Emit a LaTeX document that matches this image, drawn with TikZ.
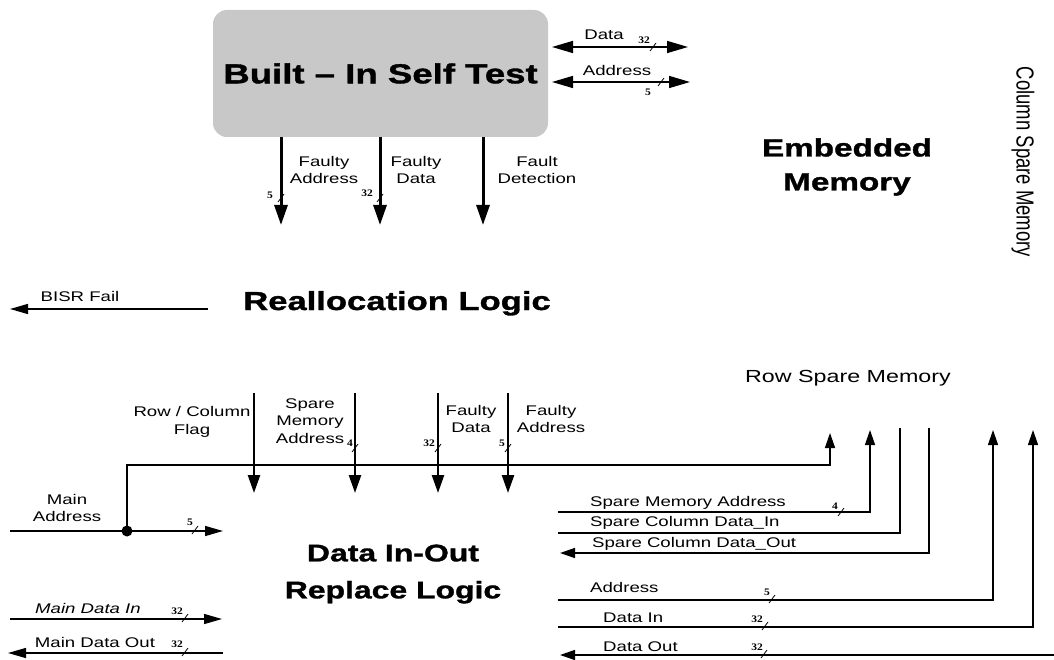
\documentclass[tikz,border=0pt]{standalone}
\usepackage{fontspec}
\setmainfont{Liberation Sans}[FakeStretch=1.33, BoldFeatures={FakeBold=1.3}]
\newfontfamily\plainsans{Liberation Sans}
\newfontfamily\numfont{Liberation Serif}[FakeStretch=1.15]
\usetikzlibrary{arrows.meta}
\definecolor{bistgray}{RGB}{200,200,200}
\tikzset{
  lbl/.style={inner sep=0pt, align=center, font=\fontsize{14}{17.5}\selectfont},
  lblw/.style={inner sep=0pt, anchor=west, font=\fontsize{14}{17.5}\selectfont},
  numlbl/.style={inner sep=0pt, font=\numfont\bfseries\fontsize{10}{10}\selectfont},
  bigarrow/.style={line width=3pt, -{Triangle[length=20pt,width=13pt]}},
  midarrow/.style={line width=2.5pt, -{Triangle[length=18pt,width=12pt]}},
  mainarrow/.style={line width=1.4pt, -{Triangle[length=18pt,width=10pt]}},
  dblarrow/.style={line width=1.5pt, {Triangle[length=21pt,width=12pt]}-{Triangle[length=21pt,width=12pt]}},
  wire/.style={line width=1.4pt},
  wirearrow/.style={line width=1.4pt, -{Triangle[length=15pt,width=10pt]}},
  slash/.style={line width=0.8pt}
}
\begin{document}
\begin{tikzpicture}[x=1pt,y=-1pt]
\useasboundingbox (0,0) rectangle (1054,660);
\fill[white] (0,0) rectangle (1054,660);

% ---------- Built-In Self Test ----------
\node[fill=bistgray, rounded corners=14pt, minimum width=335pt, minimum height=127pt, inner sep=0pt,
      font=\bfseries\fontsize{27.5}{30}\selectfont] (bist) at (380.5,73.5) {Built -- In Self Test};

\coordinate (dL) at (552,47);  \coordinate (dR) at (688,47);
\coordinate (aL) at (552,82);  \coordinate (aR) at (690,82);
\draw[dblarrow] (dL) -- (dR);
\draw[dblarrow] (aL) -- (aR);
\node[lbl] (ldata) at (604,35) {Data};
\node[lbl] (laddr) at (617,70) {Address};
\node[numlbl] (n1) at (644,40) {32};
\node[numlbl] (n2) at (648,92) {5};
\coordinate (t1) at (653,47); \draw[slash] (t1) ++(-3,4) -- ++(6,-8);
\coordinate (t2) at (661,82); \draw[slash] (t2) ++(-3,4) -- ++(6,-8);

% down arrows from BIST
\coordinate (fa0) at (281,137); \coordinate (fa1) at (281,225);
\coordinate (fd0) at (380,137); \coordinate (fd1) at (380,225);
\coordinate (fx0) at (483,137); \coordinate (fx1) at (483,225);
\draw[bigarrow] (fa0) -- (fa1);
\draw[bigarrow] (fd0) -- (fd1);
\draw[bigarrow] (fx0) -- (fx1);
\node[lbl] (lfa) at (324,170) {Faulty\\Address};
\node[lbl] (lfd) at (416,170) {Faulty\\Data};
\node[lbl] (lfx) at (537,170) {Fault\\Detection};
\node[numlbl] (n3) at (270,195) {5};
\node[numlbl] (n4) at (367,193) {32};
\coordinate (t3) at (281,198); \draw[slash] (t3) ++(-3,4) -- ++(6,-8);
\coordinate (t4) at (380,198); \draw[slash] (t4) ++(-3,4) -- ++(6,-8);

% ---------- Embedded memory / column spare ----------
\node[inner sep=0pt, align=center, font=\bfseries\fontsize{25}{34}\selectfont] (emb) at (847,167) {Embedded\\Memory};
\node[inner sep=0pt, rotate=-90] (csm) at (1023,162)
  {\plainsans\fontsize{18.5}{20}\selectfont\scalebox{1}[1.33]{Column Spare Memory}};

% ---------- Reallocation logic ----------
\node[inner sep=0pt, anchor=base, font=\bfseries\fontsize{26}{30}\selectfont] (real) at (397,310) {Reallocation Logic};
\coordinate (bf0) at (208,309); \coordinate (bf1) at (10,309);
\draw[mainarrow] (bf0) -- (bf1);
\node[lbl] (lbf) at (80,296) {BISR Fail};

\node[inner sep=0pt, font=\fontsize{17.5}{20}\selectfont] (rsm) at (848,378) {Row Spare Memory};

% ---------- arrows into Data In-Out ----------
\coordinate (rc0) at (254,393); \coordinate (rc1) at (254,493);
\coordinate (sm0) at (355,393); \coordinate (sm1) at (355,493);
\coordinate (fq0) at (438,393); \coordinate (fq1) at (438,493);
\coordinate (fr0) at (508,393); \coordinate (fr1) at (508,493);
\draw[midarrow] (rc0) -- (rc1);
\draw[midarrow] (sm0) -- (sm1);
\draw[midarrow] (fq0) -- (fq1);
\draw[midarrow] (fr0) -- (fr1);
\node[lbl] (lrc) at (192,422) {Row / Column\\Flag};
\node[lbl] (lsm) at (310,421) {Spare\\Memory\\Address};
\node[lbl] (lfq) at (471,419) {Faulty\\Data};
\node[lbl] (lfr) at (551,419) {Faulty\\Address};
\node[numlbl] (n5) at (350,443) {4};
\node[numlbl] (n6) at (429,443) {32};
\node[numlbl] (n7) at (502,443) {5};
\coordinate (t5) at (355,448); \draw[slash] (t5) ++(-3,4) -- ++(6,-8);
\coordinate (t6) at (438,448); \draw[slash] (t6) ++(-3,4) -- ++(6,-8);
\coordinate (t7) at (508,448); \draw[slash] (t7) ++(-3,4) -- ++(6,-8);

% ---------- main address bus ----------
\node[circle, fill=black, inner sep=0pt, minimum size=11pt] (dot) at (127,531) {};
\coordinate (ma0) at (10,531); \coordinate (ma1) at (223,531);
\draw[mainarrow] (ma0) -- (ma1);
\coordinate (bc) at (127,465); \coordinate (be) at (830,465); \coordinate (bt) at (830,433);
\draw[wirearrow] (dot.center) -- (bc) -- (be) -- (bt);
\node[lbl] (lma) at (67,508) {Main\\Address};
\node[numlbl] (n8) at (190,522) {5};
\coordinate (t8) at (195,530); \draw[slash] (t8) ++(-3,4) -- ++(6,-8);

% ---------- Data In-Out Replace Logic ----------
\node[inner sep=0pt, align=center, font=\bfseries\fontsize{24}{37}\selectfont] (dio) at (393,574) {Data In-Out\\Replace Logic};

\coordinate (mi0) at (10,619); \coordinate (mi1) at (222,619);
\draw[mainarrow] (mi0) -- (mi1);
\node[lbl, font=\itshape\fontsize{14}{17.5}\selectfont] (lmi) at (88,608) {Main Data In};
\node[numlbl] (n9) at (177,611) {32};
\coordinate (t9) at (185,618); \draw[slash] (t9) ++(-3,4) -- ++(6,-8);

\coordinate (mo0) at (223,653); \coordinate (mo1) at (8,653);
\draw[mainarrow] (mo0) -- (mo1);
\node[lbl] (lmo) at (95,642) {Main Data Out};
\node[numlbl] (n10) at (177,644) {32};
\coordinate (t10) at (185,652); \draw[slash] (t10) ++(-3,4) -- ++(6,-8);

% ---------- right-hand wires ----------
\coordinate (s0) at (558,512); \coordinate (s1) at (870,512); \coordinate (s2) at (870,430);
\draw[wirearrow] (s0) -- (s1) -- (s2);
\node[lblw] (ls) at (590,503) {Spare Memory Address};
\node[numlbl] (n11) at (835,506) {4};
\coordinate (t11) at (841,512); \draw[slash] (t11) ++(-3,4) -- ++(6,-8);

\coordinate (ci0) at (900,428); \coordinate (ci1) at (900,533); \coordinate (ci2) at (558,533);
\draw[wire] (ci0) -- (ci1) -- (ci2);
\node[lblw] (lci) at (590,523) {Spare Column Data\_In};

\coordinate (co0) at (929,428); \coordinate (co1) at (929,553); \coordinate (co2) at (560,553);
\draw[wirearrow] (co0) -- (co1) -- (co2);
\node[lblw] (lco) at (592,544) {Spare Column Data\_Out};

\coordinate (ad0) at (558,600); \coordinate (ad1) at (993,600); \coordinate (ad2) at (993,430);
\draw[wirearrow] (ad0) -- (ad1) -- (ad2);
\node[lblw] (lad) at (590,587) {Address};
\node[numlbl] (n12) at (767,592) {5};
\coordinate (t12) at (772,599); \draw[slash] (t12) ++(-3,4) -- ++(6,-8);

\coordinate (di0) at (558,627); \coordinate (di1) at (1033,627); \coordinate (di2) at (1033,430);
\draw[wirearrow] (di0) -- (di1) -- (di2);
\node[lblw] (ldi) at (603,618) {Data In};
\node[numlbl] (n13) at (757,619) {32};
\coordinate (t13) at (765,626); \draw[slash] (t13) ++(-3,4) -- ++(6,-8);

\coordinate (do0) at (1054,655); \coordinate (do1) at (560,655);
\draw[wirearrow] (do0) -- (do1);
\node[lblw] (ldo) at (603,647) {Data Out};
\node[numlbl] (n14) at (757,647) {32};
\coordinate (t14) at (764,654); \draw[slash] (t14) ++(-3,4) -- ++(6,-8);
\end{tikzpicture}
\end{document}
